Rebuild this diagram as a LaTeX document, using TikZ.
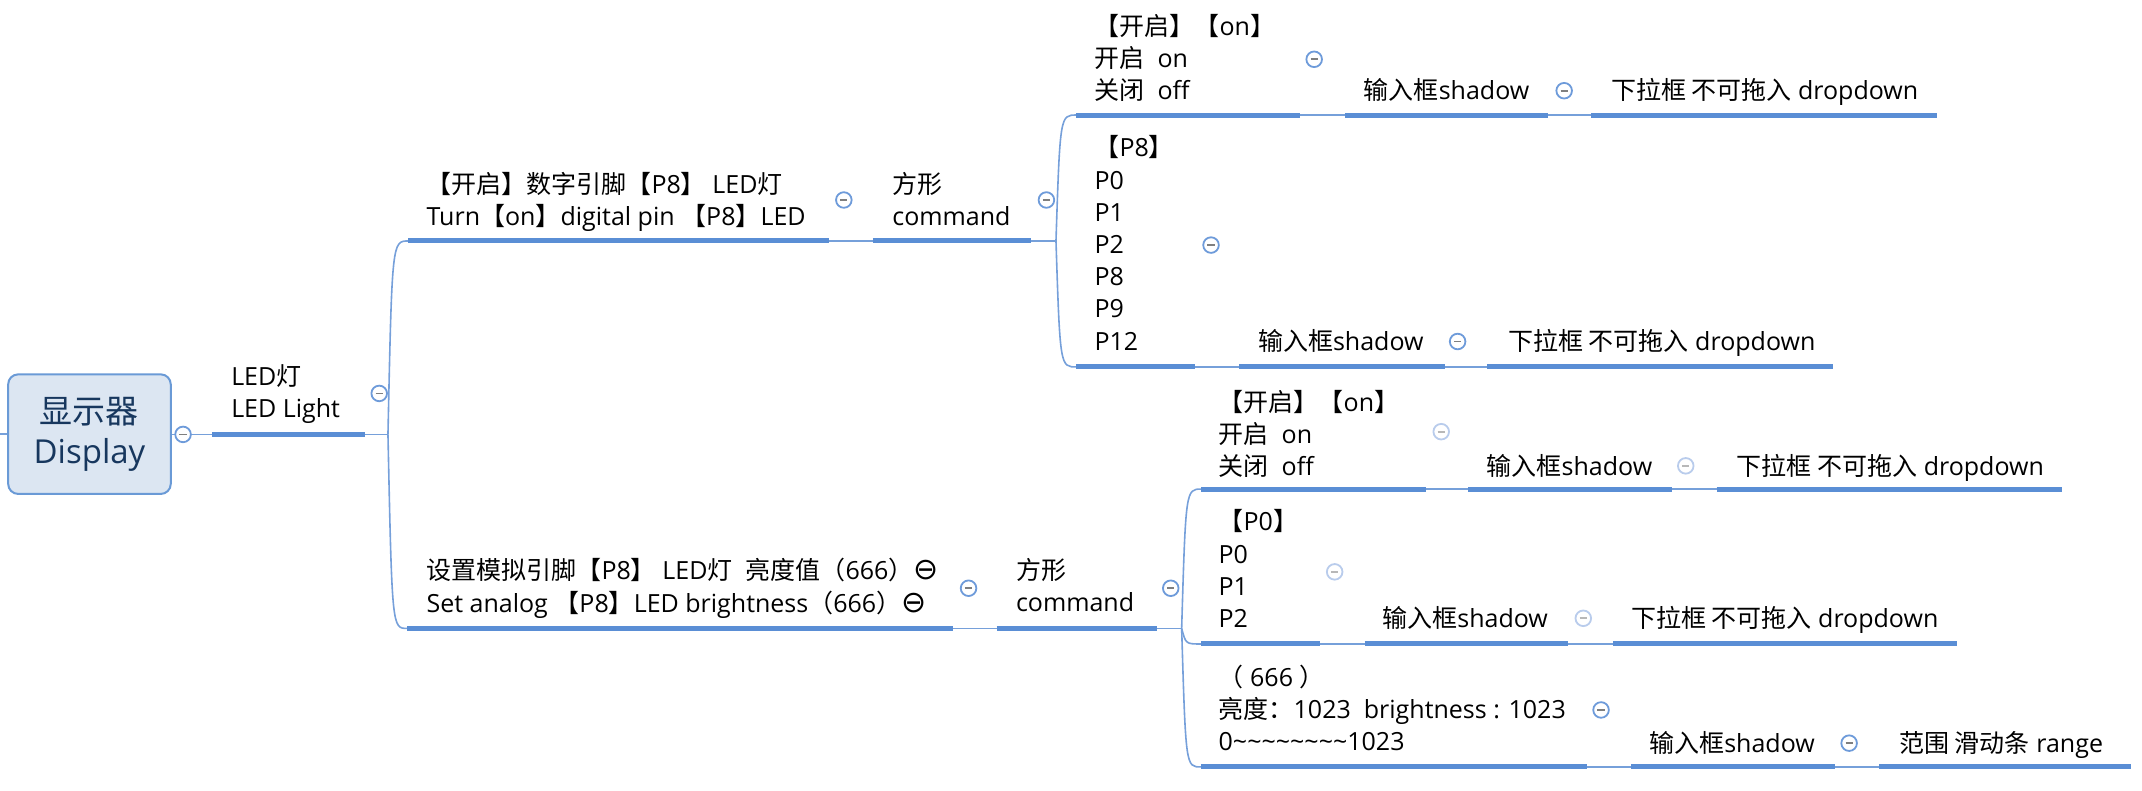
\documentclass[tikz,border=0pt]{standalone}
\usepackage{fontspec}
\setmainfont{Open Sans}
\newfontfamily\cjkf{Noto Sans CJK SC}
\newfontfamily\symf{DejaVu Sans}
\newcommand\zw[1]{{\cjkf #1}}
\newcommand\cmin{{\symf\fontsize{15}{16}\selectfont ⊖}}
\newcommand\topicfont{\fontsize{12.5}{16.1}\selectfont}
\newcommand\rootfont{\fontsize{16.5}{20}\selectfont}
\definecolor{ulc}{HTML}{5A8ED5}
\definecolor{cnc}{HTML}{76A0DA}
\definecolor{fdc}{HTML}{6E9BDA}
\definecolor{mnc}{HTML}{7F7F7F}
\definecolor{fdl}{HTML}{B9CCEC}
\definecolor{mnl}{HTML}{B8B8B8}
\definecolor{rootfill}{HTML}{DCE6F2}
\definecolor{rootdraw}{HTML}{6A9AD6}
\definecolor{roottext}{HTML}{17375E}
\begin{document}
\begin{tikzpicture}[x=0.68304pt,y=-0.68304pt,
  topic/.style={inner sep=0pt,anchor=west,align=left,font=\topicfont,
    execute at begin node=\strut,execute at end node=\strut},
  ul/.style={line width=2.5pt,draw=ulc},
  conn/.style={line width=0.8pt,draw=cnc},
  fold/.style={circle,draw=fdc,fill=white,line width=0.9pt,minimum size=7.8pt,inner sep=0pt,
    path picture={\draw[draw=mnc,line width=0.9pt]
      ([xshift=-1.8pt]path picture bounding box.center) -- ([xshift=1.8pt]path picture bounding box.center);}},
  foldl/.style={circle,draw=fdl,fill=white,line width=0.9pt,minimum size=7.8pt,inner sep=0pt,
    path picture={\draw[draw=mnl,line width=0.9pt]
      ([xshift=-1.8pt]path picture bounding box.center) -- ([xshift=1.8pt]path picture bounding box.center);}},
  rootbox/.style={rounded corners=5pt,draw=rootdraw,fill=rootfill,line width=1pt,
    minimum width=81.3pt,minimum height=59.8pt,inner sep=0pt,align=center,
    font=\rootfont,text=roottext}
]
\useasboundingbox (0,0) rectangle (1568,578.3);

% ---------- root ----------
\node[rootbox] (root) at (65.5,317.8) {\zw{显示器}\\Display};
\coordinate (left) at (0,317.8);

% ---------- coordinates of underlines ----------
\coordinate (led-s) at (155.4,318); \coordinate (led-e) at (267,318);
\coordinate (j1) at (284,318); \coordinate (j1c) at (287,318);
\coordinate (ta-s) at (299,176.4); \coordinate (ta-e) at (606.5,176.4);
\coordinate (ca-s) at (639,176.4); \coordinate (ca-e) at (754.7,176.4);
\coordinate (j2) at (773,176.4); \coordinate (j2c) at (776,176.4);
\coordinate (a-s) at (788,84.2); \coordinate (a-e) at (951.5,84.2);
\coordinate (ash-s) at (984.5,84.2); \coordinate (ash-e) at (1133,84.2);
\coordinate (adr-s) at (1165,84.2); \coordinate (adr-e) at (1418,84.2);
\coordinate (b-s) at (788,268.6); \coordinate (b-e) at (875,268.6);
\coordinate (bsh-s) at (907,268.6); \coordinate (bsh-e) at (1058,268.6);
\coordinate (bdr-s) at (1088.6,268.6); \coordinate (bdr-e) at (1342,268.6);
\coordinate (tb-s) at (298,460); \coordinate (tb-e) at (697.6,460);
\coordinate (cb-s) at (729.6,460); \coordinate (cb-e) at (847,460);
\coordinate (j3) at (865,460); \coordinate (j3c) at (868,460);
\coordinate (c-s) at (879.5,358); \coordinate (c-e) at (1043.6,358);
\coordinate (csh-s) at (1074.6,358); \coordinate (csh-e) at (1224,358);
\coordinate (cdr-s) at (1256.6,358); \coordinate (cdr-e) at (1509.6,358);
\coordinate (d-s) at (879,471.4); \coordinate (d-e) at (966,471.4);
\coordinate (dsh-s) at (999,471.4); \coordinate (dsh-e) at (1148,471.4);
\coordinate (ddr-s) at (1181,471.4); \coordinate (ddr-e) at (1432.6,471.4);
\coordinate (e-s) at (879,561.4); \coordinate (e-e) at (1162,561.4);
\coordinate (esh-s) at (1194,561.4); \coordinate (esh-e) at (1343,561.4);
\coordinate (erg-s) at (1375.6,561.4); \coordinate (erg-e) at (1560,561.4);

% ---------- connectors ----------
\draw[conn] (left) -- (root.west);
\draw[conn] (root.east |- led-s) -- (led-s);
\draw[conn] (led-e) -- (j1);
\draw[conn] (j1) .. controls (j1c |- ta-s) .. (ta-s);
\draw[conn] (j1) .. controls (j1c |- tb-s) .. (tb-s);
\draw[conn] (ta-e) -- (ca-s);
\draw[conn] (ca-e) -- (j2);
\draw[conn] (j2) .. controls (j2c |- a-s) .. (a-s);
\draw[conn] (j2) .. controls (j2c |- b-s) .. (b-s);
\draw[conn] (a-e) -- (ash-s);
\draw[conn] (ash-e) -- (adr-s);
\draw[conn] (b-e) -- (bsh-s);
\draw[conn] (bsh-e) -- (bdr-s);
\draw[conn] (tb-e) -- (cb-s);
\draw[conn] (cb-e) -- (j3);
\draw[conn] (j3) .. controls (j3c |- c-s) .. (c-s);
\draw[conn] (j3) .. controls (j3c |- d-s) .. (d-s);
\draw[conn] (j3) .. controls (j3c |- e-s) .. (e-s);
\draw[conn] (c-e) -- (csh-s);
\draw[conn] (csh-e) -- (cdr-s);
\draw[conn] (d-e) -- (dsh-s);
\draw[conn] (dsh-e) -- (ddr-s);
\draw[conn] (e-e) -- (esh-s);
\draw[conn] (esh-e) -- (erg-s);

% ---------- underlines ----------
\foreach \u in {led,ta,ca,a,ash,adr,b,bsh,bdr,tb,cb,c,csh,cdr,d,dsh,ddr,e,esh,erg}
  \draw[ul] (\u-s) -- (\u-e);

% ---------- topic texts ----------
\node[topic] (led) at (169,289.9) {LED\zw{灯}\\LED Light};
\node[topic] (ta) at (312,149) {\zw{【开启】数字引脚【}P8\zw{】} LED\zw{灯}\\Turn\zw{【}on\zw{】}digital pin \zw{【}P8\zw{】}LED};
\node[topic] (ca) at (653,149) {\zw{方形}\\command};
\node[topic] (a) at (801,45.3) {\zw{【开启】【}on\zw{】}\\\zw{开启}\ \ on\\\zw{关闭}\ \ off};
\node[topic] (ash) at (998,68.4) {\zw{输入框}shadow};
\node[topic] (adr) at (1179,68.4) {\zw{下拉框 不可拖入} dropdown};
\node[topic] (b) at (801,181.3) {\zw{【}P8\zw{】}\\P0\\P1\\P2\\P8\\P9\\P12};
\node[topic] (bsh) at (920.6,252) {\zw{输入框}shadow};
\node[topic] (bdr) at (1103.7,252) {\zw{下拉框 不可拖入} dropdown};
\node[topic] (tb) at (312,432) {\zw{设置模拟引脚【}P8\zw{】} LED\zw{灯}\ \ \zw{亮度值（}666\zw{）}\cmin\\Set analog \zw{【}P8\zw{】}LED brightness\zw{（}666\zw{）}\cmin};
\node[topic] (cb) at (743.5,432) {\zw{方形}\\command};
\node[topic] (c) at (891.8,320.4) {\zw{【开启】【}on\zw{】}\\\zw{开启}\ \ on\\\zw{关闭}\ \ off};
\node[topic] (csh) at (1088,343.7) {\zw{输入框}shadow};
\node[topic] (cdr) at (1271,343.7) {\zw{下拉框 不可拖入} dropdown};
\node[topic] (d) at (891.8,419.8) {\zw{【}P0\zw{】}\\P0\\P1\\P2};
\node[topic] (dsh) at (1011.6,454.6) {\zw{输入框}shadow};
\node[topic] (ddr) at (1193.7,454.6) {\zw{下拉框 不可拖入} dropdown};
\node[topic] (e) at (891.8,521.5) {\zw{（} 666 \zw{）}\\\zw{亮度：}1023\ \ brightness : 1023\\0\textasciitilde\textasciitilde\textasciitilde\textasciitilde\textasciitilde\textasciitilde\textasciitilde\textasciitilde1023};
\node[topic] (esh) at (1207,546) {\zw{输入框}shadow};
\node[topic] (erg) at (1390,546) {\zw{范围 滑动条} range};

% ---------- fold markers ----------
\node[fold] (root-f) at (134,318) {};
\node[fold] (led-f) at (277.6,288) {};
\node[fold] (ta-f) at (617.7,146.4) {};
\node[fold] (ca-f) at (766,146.4) {};
\node[fold] (a-f) at (962,43.4) {};
\node[fold] (ash-f) at (1145,66.4) {};
\node[fold] (b-f) at (886.5,179.4) {};
\node[fold] (bsh-f) at (1067,250) {};
\node[fold] (tb-f) at (709,430.6) {};
\node[fold] (cb-f) at (857,430.6) {};
\node[foldl] (c-f) at (1055,316) {};
\node[foldl] (csh-f) at (1234,341) {};
\node[foldl] (d-f) at (977,418.6) {};
\node[foldl] (dsh-f) at (1159,452.6) {};
\node[fold] (e-f) at (1172,519.7) {};
\node[fold] (esh-f) at (1353.6,544) {};
\end{tikzpicture}
\end{document}
